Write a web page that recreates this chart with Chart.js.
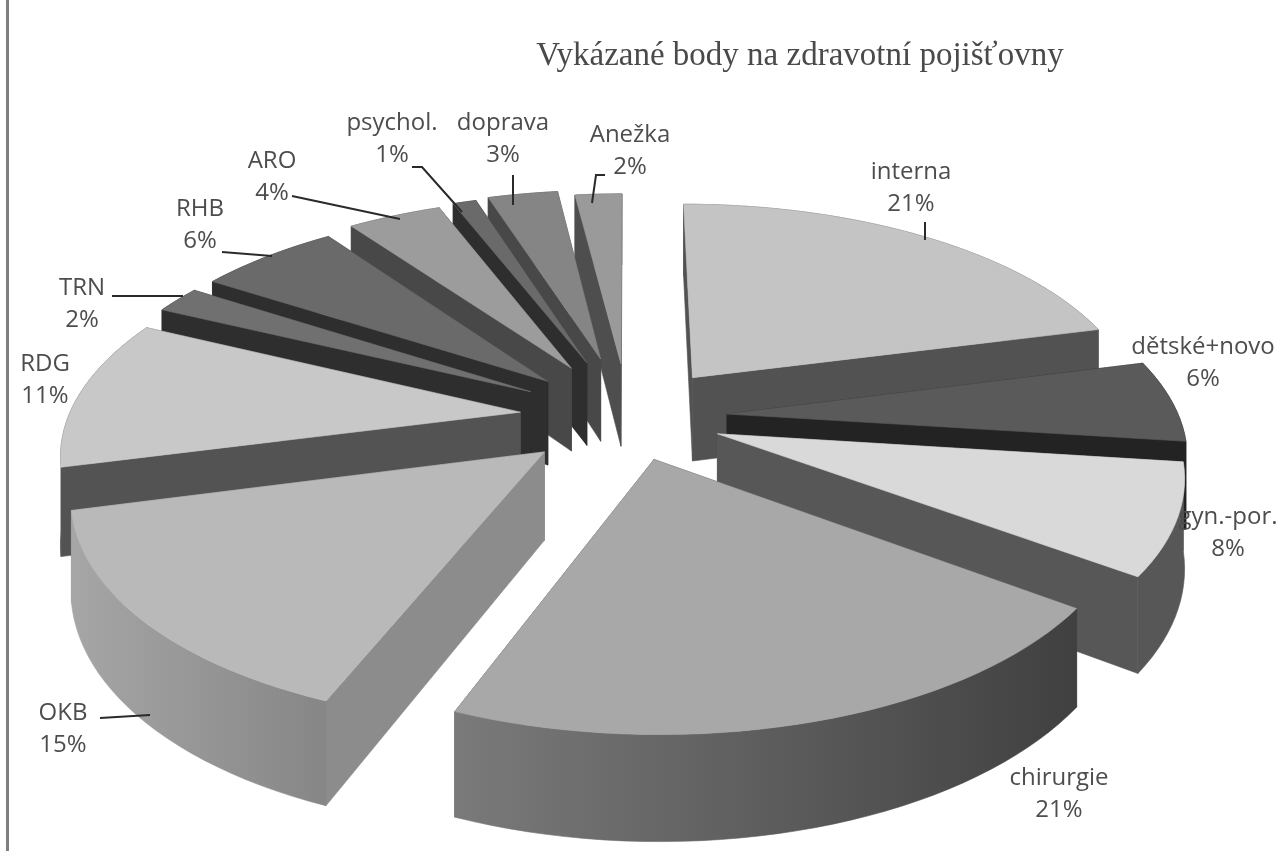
<!DOCTYPE html>
<html><head><meta charset="utf-8">
<style>html,body{margin:0;padding:0;background:#fff;overflow:hidden}
#wrap{position:relative;width:1279px;height:851px}
canvas{display:block;filter:blur(0.7px)}
</style>
<script src="https://cdn.jsdelivr.net/npm/chart.js@4/dist/chart.umd.min.js"></script>
</head><body><div id="wrap"><canvas id="c" width="1279" height="851"></canvas></div>
<script>
const chartTitle = "Vykázané body na zdravotní pojišťovny";
const categories = ["interna","dětské+novo","gyn.-por.","chirurgie","OKB","RDG","TRN","RHB","ARO","psychol.","doprava","Anežka"];
const shares = [21,6,8,21,15,11,2,6,4,1,3,2];
const explode = [24,22,21,20,24,24,25,25,27,28,29,26];
const topColors = ["#c4c4c4","#5a5a5a","#d9d9d9","#a8a8a8","#b9b9b9","#c8c8c8","#707070","#6a6a6a","#9c9c9c","#6a6a6a","#858585","#9a9a9a"];
const sideColors = ["#525252","#232323","#575757","#454545","#8c8c8c","#535353","#2e2e2e","#2e2e2e","#484848","#2e2e2e","#484848","#4e4e4e"];
const rimLeft = ["#525252","#232323","#575757","#7a7a7a","#a6a6a6","#535353","#2e2e2e","#2e2e2e","#484848","#2e2e2e","#484848","#4e4e4e"];
const rimRight = ["#525252","#232323","#575757","#404040","#868686","#535353","#2e2e2e","#2e2e2e","#484848","#2e2e2e","#484848","#4e4e4e"];
const labelPos = [[911,172],[1203,347],[1228,517],[1059,778],[63,713],[45,364],[82,288],[200,209],[272,161],[392,123],[503,123],[630,135]];
const leaders = [[[925,222],[925,240]],[],[],[],[[100,718],[150,715]],[],[[112,296],[183,296]],[[222,252],[272,256]],[[292,196],[400,219]],[[412,167],[422,167],[462,212]],[[513,175],[513,205]],[[605,175],[596,175],[592,203]]];

const P = {cx:628, cy:417, rx:452, ry:214, c:0.165, depth:86};
function proj(u,v,h){const s=1/(1-P.c*v);return [P.cx+P.rx*u*s, P.cy+P.ry*v*s+P.depth*s*h];}
function poly(ctx,pts,fill){ctx.beginPath();pts.forEach((p,i)=>i?ctx.lineTo(p[0],p[1]):ctx.moveTo(p[0],p[1]));ctx.closePath();ctx.fillStyle=fill;ctx.strokeStyle=fill;ctx.lineWidth=0.6;ctx.fill();ctx.stroke();}

const pie3d = {
  id:'pie3d',
  beforeDatasetsDraw(chart){
    const ctx=chart.ctx, meta=chart.getDatasetMeta(0);
    const items=meta.data.map((arc,i)=>{
      const st=arc.startAngle,en=arc.endAngle,mid=(st+en)/2,d=arc.options.offset/100;
      return {i,st,en,ox:Math.cos(mid)*d,oy:Math.sin(mid)*d,sort:Math.sin(mid)};
    }).sort((a,b)=>a.sort-b.sort);
    items.forEach(t=>{
      const n=Math.max(4,Math.ceil((t.en-t.st)/(Math.PI/90)));
      const rim=[];for(let k=0;k<=n;k++){const a=t.st+(t.en-t.st)*k/n;rim.push([t.ox+Math.cos(a),t.oy+Math.sin(a)]);}
      const ap=[t.ox,t.oy];
      const A0=proj(ap[0],ap[1],0),A1=proj(ap[0],ap[1],1);
      const rs=rim[0],re=rim[n];
      poly(ctx,[A0,proj(rs[0],rs[1],0),proj(rs[0],rs[1],1),A1],sideColors[t.i]);
      poly(ctx,[A0,proj(re[0],re[1],0),proj(re[0],re[1],1),A1],sideColors[t.i]);
      const xs=rim.map(p=>proj(p[0],p[1],0)[0]);
      const gr=ctx.createLinearGradient(Math.min(...xs),0,Math.max(...xs),0);
      gr.addColorStop(0,rimLeft[t.i]);gr.addColorStop(1,rimRight[t.i]);
      const wall=rim.map(p=>proj(p[0],p[1],0)).concat(rim.slice().reverse().map(p=>proj(p[0],p[1],1)));
      poly(ctx,wall,gr);
      poly(ctx,[A0].concat(rim.map(p=>proj(p[0],p[1],0))),topColors[t.i]);
    });
    return false;
  },
  afterDraw(chart){
    const ctx=chart.ctx;
    ctx.save();
    ctx.fillStyle='#7f7f7f';ctx.fillRect(6,0,3,851);
    ctx.textAlign='center';ctx.textBaseline='middle';
    ctx.fillStyle='#4a4a4a';ctx.font='33px "Liberation Serif"';
    ctx.fillText(chart.options.plugins.title.text,800,56);
    const total=shares.reduce((a,b)=>a+b,0);
    ctx.fillStyle='#4d4d4d';ctx.font='24px "Open Sans"';
    categories.forEach((name,i)=>{
      const [x,y]=labelPos[i];
      ctx.fillText(name,x,y);
      ctx.fillText(Math.round(shares[i]/total*100)+'%',x,y+32);
    });
    ctx.strokeStyle='#2a2a2a';ctx.lineWidth=2;
    leaders.forEach(l=>{if(!l.length)return;ctx.beginPath();l.forEach((p,k)=>k?ctx.lineTo(p[0],p[1]):ctx.moveTo(p[0],p[1]));ctx.stroke();});
    ctx.restore();
  }
};

new Chart(document.getElementById('c'),{
  type:'pie',
  data:{labels:categories,datasets:[{data:shares,backgroundColor:topColors,offset:explode,borderWidth:0}]},
  options:{responsive:false,animation:false,rotation:0,
    plugins:{legend:{display:false},tooltip:{enabled:false},title:{display:false,text:chartTitle}}},
  plugins:[pie3d]
});
</script></body></html>
